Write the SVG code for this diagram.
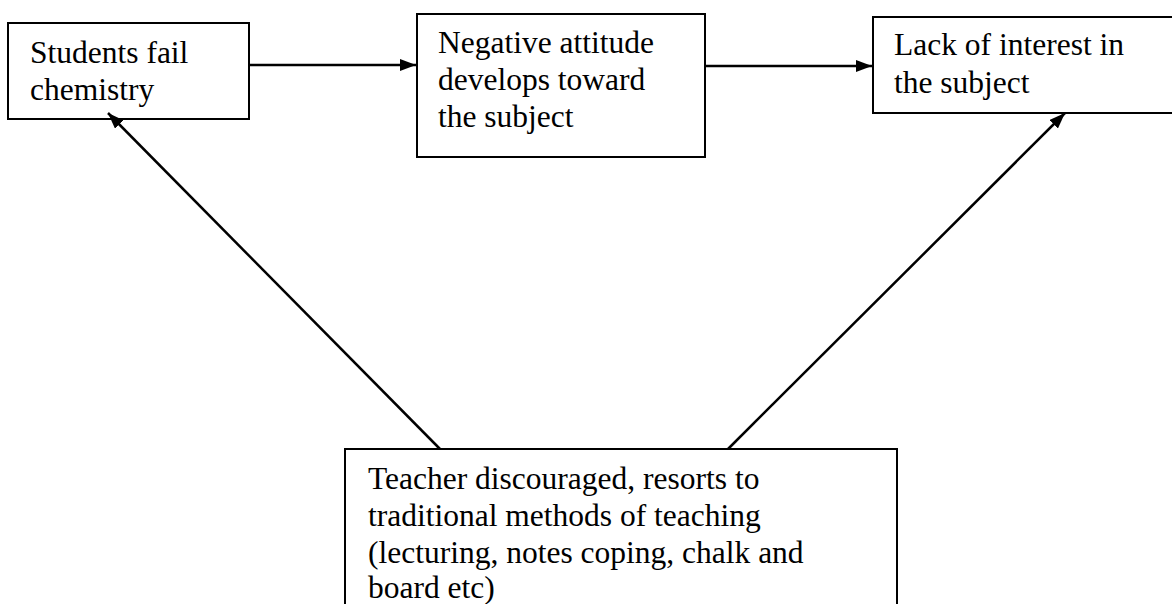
<svg xmlns="http://www.w3.org/2000/svg" width="1172" height="604" viewBox="0 0 1172 604">
<style>
.box{fill:#fff;stroke:#000;stroke-width:2}
.t{font-family:"Liberation Serif","Times New Roman",serif;font-size:31.5px;fill:#000}
.c{stroke:#000;stroke-width:2.5;fill:none}
</style>
<defs>
<marker id="ah" viewBox="0 0 16 12" refX="16" refY="6" markerWidth="16" markerHeight="12" markerUnits="userSpaceOnUse" orient="auto">
<path d="M0,0 L16,6 L0,12 z" fill="#000"/>
</marker>
</defs>
<rect width="1172" height="604" fill="#fff"/>
<g id="n1">
<rect class="box" x="8" y="23" width="241" height="96"/>
<text class="t" x="30" y="63">Students fail</text>
<text class="t" x="30" y="100">chemistry</text>
</g>
<g id="n2">
<rect class="box" x="417" y="14" width="288" height="143"/>
<text class="t" x="438" y="53">Negative attitude</text>
<text class="t" x="438" y="90">develops toward</text>
<text class="t" x="438" y="127">the subject</text>
</g>
<g id="n3">
<rect class="box" x="873" y="17" width="310" height="96"/>
<text class="t" x="894" y="55">Lack of interest in</text>
<text class="t" x="894" y="93">the subject</text>
</g>
<g id="n4">
<rect class="box" x="345" y="449" width="552" height="170"/>
<text class="t" x="368" y="489">Teacher discouraged, resorts to</text>
<text class="t" x="368" y="526">traditional methods of teaching</text>
<text class="t" x="368" y="563">(lecturing, notes coping, chalk and</text>
<text class="t" x="368" y="598">board etc)</text>
</g>
<g id="connectors">
<line class="c" x1="249" y1="65" x2="416" y2="65" marker-end="url(#ah)"/>
<line class="c" x1="705" y1="66" x2="872" y2="66" marker-end="url(#ah)"/>
<line class="c" x1="440" y1="449" x2="108" y2="113" marker-end="url(#ah)"/>
<line class="c" x1="728" y1="449" x2="1065" y2="113" marker-end="url(#ah)"/>
</g>
</svg>
